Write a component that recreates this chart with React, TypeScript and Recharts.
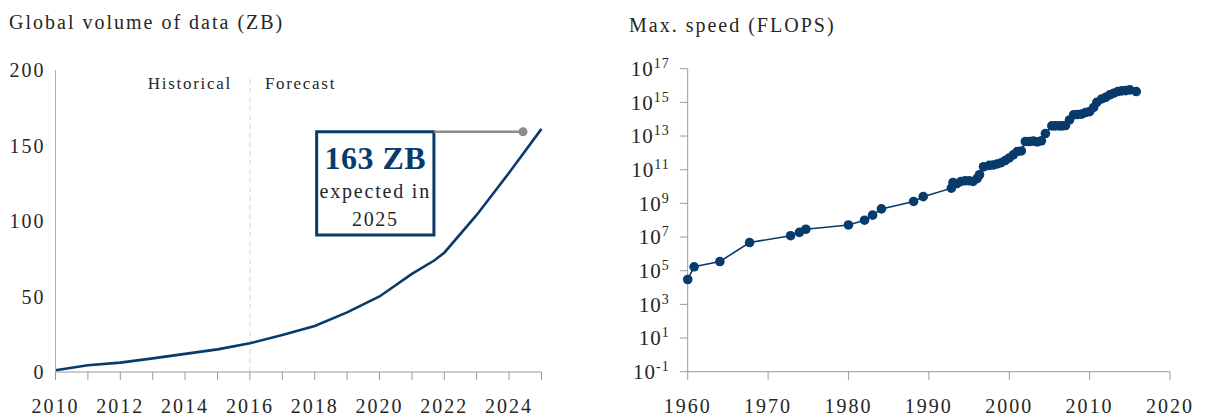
import React from 'react';
import { LineChart, Line, XAxis, YAxis, ReferenceLine, ReferenceArea, ReferenceDot } from 'recharts';

const NAVY = '#083b6b';
const GRAY = '#8c8c8c';
const AXIS = '#9a9a9a';
const TEXT = '#262626';
const FONT = 'Liberation Serif, Times New Roman, Times, serif';

// Left chart: global volume of data (ZB)
const volumeYears = [2010, 2011, 2012, 2013, 2014, 2015, 2016, 2017, 2018, 2019, 2020, 2021, 2021.7, 2022, 2023, 2024, 2025];
const volumeZB = [1.2, 4.5, 6.2, 9, 12, 15, 19, 24.5, 30.5, 39.5, 50, 65, 74, 79, 104, 132, 161];
const volumeXTicks = [2010, 2011, 2012, 2013, 2014, 2015, 2016, 2017, 2018, 2019, 2020, 2021, 2022, 2023, 2024, 2025];
const volumeYTicks = [0, 50, 100, 150, 200];
const forecastStartYear = 2016;
const forecastLineTop = 195;
const phaseLabelValue = 191.5;
const calloutBoxYears = [2018.06, 2021.68];
const calloutBoxValues = [90.7, 159.1];
const calloutYear = 2024.43;
const calloutValue = 159.1;
const calloutTitle = '163 ZB';
const calloutLines = ['expected in', '2025'];

// Right chart: max speed (FLOPS)
const speedYears = [
  1960, 1960.8, 1964, 1967.7, 1972.8, 1973.9, 1974.7, 1980, 1982, 1983, 1984.1, 1988.1, 1989.3,
  1992.8, 1993, 1993.5, 1994, 1994.5, 1995, 1995.5, 1996, 1996.3, 1996.8, 1997.5, 1998, 1998.5,
  1999, 1999.5, 2000, 2000.5, 2001, 2001.5, 2002, 2002.5, 2003, 2003.5, 2004, 2004.5, 2005.3,
  2005.7, 2006.2, 2006.6, 2007, 2007.5, 2008, 2008.5, 2009, 2009.5, 2010, 2010.5, 2010.9, 2011.5,
  2012, 2012.5, 2013, 2013.5, 2014, 2014.5, 2015, 2015.8,
];
const speedFlops = [
  3e4, 1.7e5, 3.5e5, 4.7e6, 1.2e7, 1.9e7, 2.9e7, 5.2e7, 1.0e8, 2.0e8, 4.7e8, 1.3e9, 2.5e9,
  8e9, 1.7e10, 1.5e10, 2e10, 2.2e10, 2.2e10, 2e10, 3e10, 5e10, 1.5e11, 1.8e11, 1.9e11, 2.2e11,
  2.6e11, 3.5e11, 5e11, 7.6e11, 1.2e12, 1.3e12, 4.7e12, 4.7e12, 5e12, 4.5e12, 5.2e12, 1.4e13, 4e13,
  4e13, 4e13, 4e13, 4.2e13, 9e13, 1.8e14, 1.9e14, 2e14, 2.5e14, 2.8e14, 5e14, 1e15, 1.6e15,
  2e15, 2.8e15, 3.5e15, 4.4e15, 4.8e15, 5e15, 5.5e15, 4.4e15,
];
const speedXTicks = [1960, 1970, 1980, 1990, 2000, 2010, 2020];
const speedYTicks = [1e-1, 1e1, 1e3, 1e5, 1e7, 1e9, 1e11, 1e13, 1e15, 1e17];

const volumeData = volumeYears.map((year, i) => ({ year, zb: volumeZB[i] }));
const speedData = speedYears.map((year, i) => ({ year, flops: speedFlops[i] }));

const YearTick = (props: any) => {
  const { x, y, payload, every } = props;
  const v = payload.value;
  if (every && (v - 2010) % every !== 0) return null;
  return (
    <text x={x} y={y} dy="0.71em" textAnchor="middle" fontSize={20} style={{ letterSpacing: 2, fontFamily: FONT }} fill={TEXT}>
      {v}
    </text>
  );
};

const LinearYTick = (props: any) => {
  const { x, y, payload } = props;
  return (
    <text x={x} y={y} dy="0.35em" textAnchor="end" fontSize={20} style={{ letterSpacing: 2, fontFamily: FONT }} fill={TEXT}>
      {payload.value}
    </text>
  );
};

const LogYTick = (props: any) => {
  const { x, y, payload } = props;
  const exp = Math.round(Math.log10(payload.value));
  return (
    <text x={x} y={y} textAnchor="end" fill={TEXT} style={{ letterSpacing: 1, fontFamily: FONT }}>
      <tspan fontSize={21} dy="0.35em">10</tspan>
      <tspan fontSize={14} dy={-8}>{exp}</tspan>
    </text>
  );
};

const PhaseLabels = (props: any) => {
  const vb = props.viewBox || {};
  const x = vb.x;
  const y = vb.y;
  return (
    <g>
      <text x={x - 18} y={y} dy="0.35em" textAnchor="end" fontSize={17} fill={TEXT} style={{ letterSpacing: 1.7, fontFamily: FONT }}>
        Historical
      </text>
      <text x={x + 15} y={y} dy="0.35em" textAnchor="start" fontSize={17} fill={TEXT} style={{ letterSpacing: 1.7, fontFamily: FONT }}>
        Forecast
      </text>
    </g>
  );
};

const BoxText = (props: any) => {
  const vb = props.viewBox || {};
  const cx = vb.x + vb.width / 2;
  const top = vb.y;
  return (
    <g>
      <text x={cx} y={top + 26} dy="0.35em" textAnchor="middle" fontSize={32} fontWeight="bold" fill={NAVY} style={{ letterSpacing: 0.5, fontFamily: FONT }}>
        {calloutTitle}
      </text>
      <text x={cx} y={top + 60} dy="0.32em" textAnchor="middle" fontSize={20} fill={TEXT} style={{ letterSpacing: 1.8, fontFamily: FONT }}>
        {calloutLines[0]}
      </text>
      <text x={cx} y={top + 87} dy="0.35em" textAnchor="middle" fontSize={20} fill={TEXT} style={{ letterSpacing: 1.6, fontFamily: FONT }}>
        {calloutLines[1]}
      </text>
    </g>
  );
};

export default function App() {
  return (
    <div style={{ position: 'absolute', left: 0, top: 0, width: 1205, height: 417, background: '#fff', fontFamily: FONT }}>
      <div style={{ position: 'absolute', left: 9, top: 11, fontSize: 20, lineHeight: '22px', letterSpacing: 2, color: TEXT, whiteSpace: 'nowrap', fontFamily: FONT }}>
        Global volume of data (ZB)
      </div>
      <div style={{ position: 'absolute', left: 629, top: 14, fontSize: 20, lineHeight: '22px', letterSpacing: 2, color: TEXT, whiteSpace: 'nowrap', fontFamily: FONT }}>
        Max. speed (FLOPS)
      </div>

      <div style={{ position: 'absolute', left: 0, top: 0 }}>
        <LineChart width={600} height={417} data={volumeData} margin={{ top: 70, right: 58.5, bottom: 5, left: 5.5 }}>
          <XAxis
            dataKey="year"
            type="number"
            domain={[2010, 2025]}
            ticks={volumeXTicks}
            interval={0}
            height={40}
            axisLine={{ stroke: AXIS, strokeWidth: 1 }}
            tickLine={{ stroke: AXIS, strokeWidth: 1 }}
            tickSize={8}
            tickMargin={19}
            tick={<YearTick every={2} />}
          />
          <YAxis
            type="number"
            domain={[0, 200]}
            ticks={volumeYTicks}
            width={50}
            axisLine={{ stroke: '#b0b0b0', strokeWidth: 1 }}
            tickLine={false}
            tickSize={6}
            tickMargin={4}
            tick={<LinearYTick />}
          />
          <ReferenceLine
            segment={[{ x: forecastStartYear, y: 0 }, { x: forecastStartYear, y: forecastLineTop }]}
            stroke="#d6d6d6"
            strokeWidth={1}
            strokeDasharray="5 4"
          />
          <ReferenceDot x={forecastStartYear} y={phaseLabelValue} r={0} fill="none" stroke="none" label={<PhaseLabels />} />
          <ReferenceArea
            x1={calloutBoxYears[0]}
            x2={calloutBoxYears[1]}
            y1={calloutBoxValues[0]}
            y2={calloutBoxValues[1]}
            fill="#ffffff"
            fillOpacity={1}
            stroke={NAVY}
            strokeWidth={3}
            label={<BoxText />}
          />
          <ReferenceLine
            segment={[{ x: calloutBoxYears[1], y: calloutValue }, { x: calloutYear, y: calloutValue }]}
            stroke={GRAY}
            strokeWidth={2.5}
          />
          <ReferenceDot x={calloutYear} y={calloutValue} r={4.5} fill={GRAY} stroke="none" />
          <Line type="linear" dataKey="zb" stroke={NAVY} strokeWidth={2.6} dot={false} isAnimationActive={false} />
        </LineChart>
      </div>

      <div style={{ position: 'absolute', left: 600, top: 0 }}>
        <LineChart width={605} height={417} data={speedData} margin={{ top: 68.7, right: 35, bottom: 5.3, left: 12.7 }}>
          <XAxis
            dataKey="year"
            type="number"
            domain={[1960, 2020]}
            ticks={speedXTicks}
            interval={0}
            height={40}
            axisLine={{ stroke: AXIS, strokeWidth: 1 }}
            tickLine={{ stroke: AXIS, strokeWidth: 1 }}
            tickSize={8}
            tickMargin={19}
            tick={<YearTick />}
          />
          <YAxis
            type="number"
            scale="log"
            domain={[1e-1, 1e17]}
            ticks={speedYTicks}
            interval={0}
            width={75}
            axisLine={{ stroke: AXIS, strokeWidth: 1 }}
            tickLine={{ stroke: AXIS, strokeWidth: 1 }}
            tickSize={8}
            tickMargin={10}
            tick={<LogYTick />}
          />
          <Line
            type="linear"
            dataKey="flops"
            stroke={NAVY}
            strokeWidth={1.6}
            dot={{ r: 4.8, fill: NAVY, stroke: NAVY, strokeWidth: 0 }}
            isAnimationActive={false}
          />
        </LineChart>
      </div>
    </div>
  );
}
